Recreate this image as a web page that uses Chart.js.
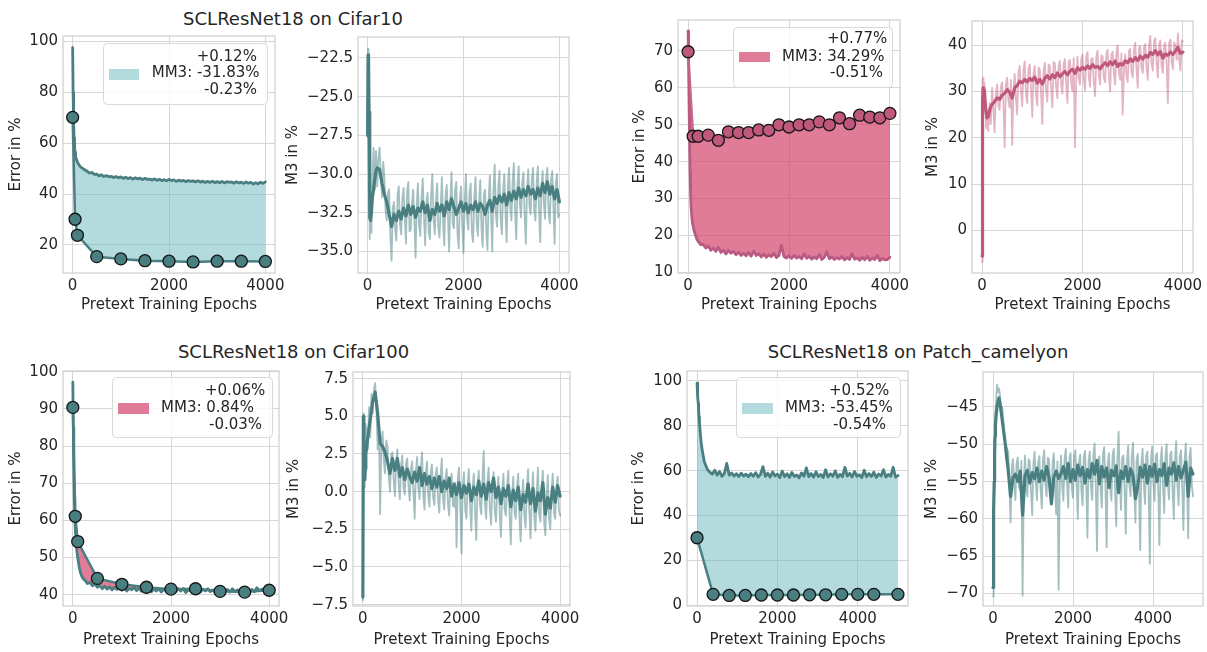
<!DOCTYPE html>
<html><head><meta charset="utf-8">
<script src="https://cdn.jsdelivr.net/npm/chart.js@4.4.1/dist/chart.umd.min.js"></script>
<style>
html,body{margin:0;padding:0;background:#fff;}
body{width:1207px;height:652px;position:relative;overflow:hidden;font-family:'DejaVu Sans',sans-serif;}
canvas{position:absolute;}
.ttl{position:absolute;font-size:18px;line-height:18px;color:#262626;white-space:nowrap;transform:translate(-50%,-50%);}
</style></head><body>
<div class="ttl" style="left:293px;top:19px">SCLResNet18 on Cifar10</div>
<div class="ttl" style="left:293.5px;top:352px">SCLResNet18 on Cifar100</div>
<div class="ttl" style="left:918px;top:351.5px">SCLResNet18 on Patch_camelyon</div>
<script>
// ---------- epochs ----------
const ep4000 = [0,10,20,30,40,50,60,80,100,125,150,175,
 200,250,300,350,400,450,500,550,600,650,700,
 750,800,850,900,950,1000,1050,1100,1150,1200,1250,
 1300,1350,1400,1450,1500,1550,1600,1650,1700,1750,1800,
 1850,1900,1950,2000,2050,2100,2150,2200,2250,2300,2350,
 2400,2450,2500,2550,2600,2650,2700,2750,2800,2850,2900,
 2950,3000,3050,3100,3150,3200,3250,3300,3350,3400,3450,
 3500,3550,3600,3650,3700,3750,3800,3850,3900,3950,4000];
const ep4000fine = [0,10,20,30,40,50,60,80,100,125,150,175,
 200,225,250,275,300,325,350,375,400,425,450,475,500,525,550,575,600,625,650,675,700,725,
 750,775,800,825,850,875,900,925,950,975,1000,1025,1050,1075,1100,1125,1150,1175,1200,1225,1250,1275,
 1300,1325,1350,1375,1400,1425,1450,1475,1500,1525,1550,1575,1600,1625,1650,1675,1700,1725,1750,1775,1800,1825,
 1850,1875,1900,1925,1950,1975,2000,2025,2050,2075,2100,2125,2150,2175,2200,2225,2250,2275,2300,2325,2350,2375,
 2400,2425,2450,2475,2500,2525,2550,2575,2600,2625,2650,2675,2700,2725,2750,2775,2800,2825,2850,2875,2900,2925,
 2950,2975,3000,3025,3050,3075,3100,3125,3150,3175,3200,3225,3250,3275,3300,3325,3350,3375,3400,3425,3450,3475,
 3500,3525,3550,3575,3600,3625,3650,3675,3700,3725,3750,3775,3800,3825,3850,3875,3900,3925,3950,3975,4000];
const ep5000 = [0,10,20,30,40,50,60,80,100,125,150,175,
 200,260,320,380,440,500,560,620,680,
 740,800,860,920,980,1040,1100,1160,1220,
 1280,1340,1400,1460,1520,1580,1640,1700,1760,
 1820,1880,1940,2000,2060,2120,2180,2240,2300,
 2360,2420,2480,2540,2600,2660,2720,2780,2840,
 2900,2960,3020,3080,3140,3200,3260,3320,3380,
 3440,3500,3560,3620,3680,3740,3800,3860,3920,
 3980,4040,4100,4160,4220,4280,4340,4400,4460,
 4520,4580,4640,4700,4760,4820,4880,4940,5000];
const ep5000fine = [0,10,20,30,40,50,60,80,100,125,150,175,
 200,230,260,290,320,350,380,410,440,470,500,530,560,590,620,650,680,710,
 740,770,800,830,860,890,920,950,980,1010,1040,1070,1100,1130,1160,1190,1220,1250,
 1280,1310,1340,1370,1400,1430,1460,1490,1520,1550,1580,1610,1640,1670,1700,1730,1760,1790,
 1820,1850,1880,1910,1940,1970,2000,2030,2060,2090,2120,2150,2180,2210,2240,2270,2300,2330,
 2360,2390,2420,2450,2480,2510,2540,2570,2600,2630,2660,2690,2720,2750,2780,2810,2840,2870,
 2900,2930,2960,2990,3020,3050,3080,3110,3140,3170,3200,3230,3260,3290,3320,3350,3380,3410,
 3440,3470,3500,3530,3560,3590,3620,3650,3680,3710,3740,3770,3800,3830,3860,3890,3920,3950,
 3980,4010,4040,4070,4100,4130,4160,4190,4220,4250,4280,4310,4340,4370,4400,4430,4460,4490,
 4520,4550,4580,4610,4640,4670,4700,4730,4760,4790,4820,4850,4880,4910,4940,4970,5000];

// ---------- Cifar10 ----------
const c10ErrLinear = [97.6,80,68,62,58.5,56.5,55,53.5,52.5,51.7,51,50.5,
 50.2,49.6,49.0,48.3,48.5,47.8,47.9,47.2,47.6,46.9,47.3,
 46.8,47.0,46.5,46.9,46.4,46.8,46.2,46.6,46.1,46.5,45.9,
 46.4,46.0,46.3,45.7,46.2,45.8,45.9,45.5,46.0,45.4,45.8,
 45.3,45.7,45.2,45.8,45.3,45.6,45.0,45.5,45.1,45.4,44.9,
 45.3,45.0,45.2,44.8,45.3,44.7,45.1,44.6,45.0,44.6,45.1,
 44.5,44.9,44.5,45.0,44.4,44.9,44.6,44.8,44.3,44.9,44.4,
 44.7,44.2,44.8,44.3,44.6,43.9,44.5,44.0,44.7,44.2,44.8];
const c10FtEpochs = [0,50,100,500,1000,1500,2000,2500,3000,3500,4000];
const c10FtErr = [70.2,30.1,23.8,15.4,14.5,13.8,13.6,13.3,13.6,13.6,13.5];
const c10M3Smooth = [-27.5,-22.3,-22.6,-26,-30.5,-32.8,-33.0,-32.5,-31.5,-31.0,-30.3,-29.8,
 -29.6,-29.7,-30.6,-31.3,-31.8,-32.6,-33.4,-32.6,-33.0,-32.4,-32.9,
 -32.2,-32.7,-32.0,-32.6,-32.1,-32.8,-32.2,-32.4,-31.8,-32.5,-32.0,
 -33.0,-32.3,-32.6,-31.9,-32.4,-32.0,-32.7,-31.8,-32.3,-31.6,-32.1,
 -32.6,-32.2,-31.8,-32.4,-31.9,-32.5,-32.0,-32.3,-31.8,-32.4,-31.9,
 -32.1,-32.6,-32.0,-31.7,-32.4,-31.5,-31.9,-31.4,-31.8,-31.3,-32.0,
 -31.2,-31.7,-31.1,-31.6,-30.9,-31.5,-31.0,-31.4,-30.8,-31.3,-31.0,
 -31.6,-30.9,-31.4,-30.6,-31.2,-30.5,-31.3,-30.8,-31.6,-31.0,-31.8];
const c10M3Raw = [-27.6,-21.9,-23.0,-27.5,-34.2,-33.5,-31.5,-33.8,-30.2,-28.3,-31.0,-28.5,
 -30.8,-29.0,-28.3,-30.0,-31.5,-29.2,-30.2,-32.4,-33.0,-31.2,-31.0,-34.0,-35.6,-32.2,-31.8,-33.6,-34.3,-31.4,-30.8,-33.2,-33.9,-31.6,
 -30.9,-32.8,-34.5,-31.1,-30.5,-33.7,-33.6,-31.9,-31.0,-33.0,-35.4,-32.0,-30.6,-33.4,-34.0,-31.5,-30.3,-32.7,-34.6,-31.9,-31.2,-33.8,
 -34.2,-31.3,-30.0,-32.9,-33.9,-31.8,-30.6,-33.5,-34.1,-32.1,-30.2,-33.3,-34.6,-31.4,-30.7,-32.6,-35.0,-31.7,-29.9,-33.2,-33.5,-31.0,
 -30.5,-33.9,-34.8,-31.6,-30.8,-33.4,-35.1,-31.8,-30.0,-32.9,-33.6,-31.2,-30.6,-33.8,-34.4,-31.5,-30.2,-33.1,-34.0,-31.7,-30.4,-33.5,
 -34.7,-31.3,-31.0,-33.7,-34.9,-31.6,-30.1,-32.8,-35.0,-31.0,-29.4,-32.6,-33.4,-30.8,-29.8,-32.9,-33.9,-31.1,-30.0,-32.4,-34.4,-30.9,
 -29.6,-32.2,-33.0,-30.4,-29.3,-32.5,-34.2,-30.7,-29.5,-31.9,-32.8,-30.5,-29.9,-32.7,-34.5,-30.9,-29.7,-32.1,-32.6,-30.3,-29.6,-32.4,
 -33.0,-30.6,-29.5,-32.3,-34.4,-30.8,-29.8,-31.9,-32.9,-30.2,-29.6,-32.5,-33.2,-30.4,-29.8,-32.0,-34.5,-30.6,-30.0,-32.8,-32.6];
const c10Legend = ['+0.12%','MM3: -31.83%','-0.23%'];

// ---------- second top pair (pink) ----------
const pErrLinear = [75.4,66,55,45,37,31,27.5,24,22.5,21,20,19,
 18.4,17.5,17.6,16.6,17.2,16.0,16.6,15.7,16.8,15.4,16.0,
 15.0,16.0,15.2,15.7,14.8,15.5,14.6,15.2,14.5,15.4,14.4,
 15.8,14.6,15.1,14.2,15.0,14.1,14.8,14.3,15.2,14.0,14.6,
 17.4,14.3,13.9,14.5,13.8,14.6,13.9,14.3,13.7,15.0,13.8,
 14.4,13.6,14.2,13.7,14.9,13.5,14.1,15.6,13.7,14.2,13.5,
 14.0,13.6,14.3,13.4,14.0,13.5,15.1,13.6,13.9,13.3,14.1,
 13.4,14.4,13.3,13.9,13.5,14.6,13.2,13.8,13.4,13.5,14.1];
const pFtEpochs = [0,100,200,400,600,800,1000,1200,1400,1600,1800,2000,2200,2400,2600,2800,3000,3200,3400,3600,3800,4000];
const pFtErr = [69.8,46.9,46.9,47.2,45.8,48.1,47.9,47.9,48.6,48.5,50.0,49.4,50.0,50.0,50.8,50.0,51.9,50.3,52.6,52.1,51.9,53.1];
const pM3Smooth = [-5.5,28,30.8,30.5,30.2,29.5,28,25.5,24.3,24.6,25.8,26.8,
 27.2,27.8,28.6,28.3,29.2,29.6,30.4,29.8,28.6,30.8,31.3,
 32.2,31.9,32.6,32.1,32.8,32.4,33.1,31.8,32.6,31.6,32.9,
 33.4,32.7,33.6,33.0,34.0,33.2,33.8,34.3,33.6,34.4,34.8,
 33.9,35.1,34.6,35.2,34.8,35.5,35.0,35.8,35.2,35.4,34.9,
 35.6,36.2,35.6,36.4,35.8,36.6,35.4,36.0,35.7,36.6,36.2,
 37.0,36.5,37.3,36.7,37.6,37.0,37.8,37.4,38.4,38.0,38.8,
 37.9,38.6,37.2,38.1,37.8,38.5,38.0,38.7,39.5,38.2,38.5];
const pM3Raw = [-6.8,32.5,33.0,29.0,31.8,27.5,30.5,22.0,26.0,21.5,27.5,23.0,
 30.8,26.5,21.2,29.5,31.5,27.0,26.0,31.0,32.0,27.5,18.0,31.5,33.0,28.0,26.5,32.5,18.5,30.0,33.8,28.5,25.0,34.0,
 35.5,30.0,26.8,34.8,36.5,29.5,27.5,35.0,35.8,30.5,24.5,34.0,35.5,29.0,27.0,35.2,34.8,29.8,23.0,34.5,36.2,30.2,
 27.8,35.8,35.5,30.8,26.5,36.4,36.0,31.0,28.5,35.6,36.6,31.5,29.5,36.0,37.0,31.8,27.5,36.5,36.8,32.0,30.0,37.2,
 18.0,32.5,37.5,33.0,31.5,37.0,38.0,32.8,30.2,37.6,38.5,33.2,31.0,37.0,37.2,32.0,29.0,37.5,38.8,33.5,31.5,37.8,
 37.5,33.0,32.0,38.2,39.0,33.6,30.0,38.0,38.6,33.8,31.5,38.4,40.0,34.0,32.5,38.2,25.0,34.5,38.0,33.5,32.0,38.8,
 39.2,34.2,33.0,39.0,40.5,34.8,30.8,39.4,39.8,35.0,34.0,39.6,40.2,35.2,32.5,40.0,42.0,36.0,34.5,40.8,41.5,36.2,
 33.0,40.2,41.0,35.5,34.0,40.0,40.5,36.0,27.5,40.5,41.2,36.4,34.8,40.6,40.0,36.8,42.5,37.0,34.5,41.0,40.8];
const pLegend = ['+0.77%','MM3: 34.29%','-0.51%'];

// ---------- Cifar100 ----------
const c100ErrLinear = [97.2,85,74,66,61,58,55.5,52,50,47.8,46.2,45.2,
 44.5,43.8,43.0,43.3,42.4,42.9,42.0,42.5,41.6,42.3,41.5,
 42.1,41.3,42.0,41.4,41.9,41.2,42.2,41.0,41.7,41.3,42.0,
 41.1,41.8,40.9,41.6,41.2,41.9,40.8,41.5,41.0,41.7,40.7,
 41.4,41.1,41.8,40.8,41.5,40.9,41.6,41.0,41.7,40.6,41.3,
 41.0,41.8,40.9,41.4,40.7,41.5,41.0,41.6,40.8,41.3,40.6,
 41.5,40.9,41.7,41.0,41.4,40.7,41.6,40.9,41.3,40.6,41.5,
 40.8,41.7,41.0,41.4,40.8,41.9,41.1,41.5,40.9,41.6,41.2];
const c100FtEpochs = [0,50,100,500,1000,1500,2000,2500,3000,3500,4000];
const c100FtErr = [90.4,61.1,54.3,44.4,42.8,42.0,41.5,41.6,40.9,40.7,41.2];
const c100M3Smooth = [-7.0,5.0,3.5,1.5,0.8,1.5,2.5,3.0,3.6,4.2,4.8,5.4,
 6.0,6.6,5.2,3.2,3.0,2.6,2.0,1.2,2.2,1.4,2.2,
 1.0,1.6,0.8,1.5,1.0,0.6,1.3,0.7,1.6,0.4,1.2,
 0.5,1.0,0.2,0.9,0.3,1.0,0.0,0.7,0.2,0.9,-0.3,
 0.5,-0.2,0.6,-0.4,0.4,-0.1,0.5,-0.6,0.3,-0.2,0.7,
 -0.3,0.5,-0.5,0.6,0.0,0.9,-0.4,0.3,-0.8,0.2,-0.3,
 0.4,-1.0,0.1,-0.6,0.3,-1.2,-0.2,-0.7,0.5,-0.8,0.2,
 -1.3,-0.1,-0.6,0.6,-1.5,-0.4,-1.1,0.3,-0.7,0.4,-0.3];
const c100M3Raw = [-7.2,5.2,2.0,0.3,1.0,4.5,2.5,4.2,2.8,5.6,3.6,6.5,
 5.2,6.8,7.2,5.5,2.8,4.6,-1.5,3.2,4.0,2.0,1.2,3.4,3.0,1.0,0.0,2.5,2.6,0.8,-0.3,2.0,2.8,0.6,
 -0.5,1.8,2.4,0.2,-0.2,1.9,2.2,0.4,-0.6,1.5,2.0,0.0,-1.8,1.4,2.3,0.2,-0.5,1.6,2.6,-0.2,-1.2,1.2,
 2.0,-0.3,-1.0,1.3,1.8,-0.4,-0.9,1.1,1.6,-0.6,-1.4,1.0,2.2,-0.5,-1.2,0.9,1.5,-0.8,-1.6,0.8,1.2,-0.9,
 -1.0,0.6,-3.7,0.9,1.6,-1.0,-4.1,0.4,1.3,-1.2,-1.8,0.6,1.5,-1.0,-2.6,0.3,1.2,-1.4,-3.2,0.5,1.4,-0.9,
 -1.5,0.8,2.7,-0.8,-1.8,0.6,1.6,-1.1,-2.2,0.4,1.3,-1.3,-2.0,0.2,1.0,-1.5,-3.0,0.1,1.2,-1.2,-1.6,0.5,
 1.4,-1.6,-3.5,-0.2,1.0,-1.4,-1.8,0.3,1.2,-1.8,-3.3,-0.4,0.8,-1.6,-2.4,0.2,1.5,-1.3,-3.1,-0.3,1.3,-1.7,
 -2.6,-0.1,1.6,-1.5,-2.0,0.4,1.4,-2.0,-2.9,-0.5,1.1,-1.8,-2.5,0.0,1.2,-1.4,-1.8,0.3,1.0,-1.2,-1.6];
const c100Legend = ['+0.06%','MM3: 0.84%','-0.03%'];

// ---------- Patch_camelyon ----------
const pcErrLinear = [99,96,93,90,87,84,81.5,77,73,69.5,67,64.5,
 63.0,60.5,59.2,58.4,60.2,58.0,59.6,57.5,58.8,
 63.2,58.0,59.0,57.6,58.6,57.4,58.9,57.6,58.4,
 57.3,58.7,57.5,59.1,57.2,58.3,61.8,57.4,58.9,
 57.1,59.4,57.6,58.5,56.9,59.8,57.3,58.6,57.0,
 59.2,57.4,58.1,56.8,59.0,57.5,61.2,57.3,58.7,
 57.1,59.5,57.4,58.3,56.9,60.4,57.2,58.6,57.5,
 59.9,57.0,58.4,57.3,61.5,57.6,58.8,57.2,59.6,
 57.5,58.2,56.9,60.2,57.3,58.7,57.4,59.3,57.0,
 58.5,57.6,60.4,57.2,58.3,57.5,61.5,57.1,57.8];
const pcFtEpochs = [0,400,800,1200,1600,2000,2400,2800,3200,3600,4000,4400,5000];
const pcFtErr = [30.1,4.9,4.4,4.4,4.6,4.6,4.6,4.7,4.7,4.9,4.9,4.9,4.9];
const pcM3Smooth = [-69.2,-64,-59,-55,-51.5,-49,-47.5,-46,-45,-44.3,-43.8,-44.5,
 -45.5,-48,-50.5,-53.5,-57.0,-54.5,-54.0,-55.0,-53.6,
 -59.5,-54.2,-53.5,-55.2,-53.8,-54.6,-53.2,-55.0,-53.6,
 -54.8,-53.0,-54.4,-58.0,-54.4,-53.6,-54.6,-54.0,-53.0,
 -54.6,-52.6,-55.0,-53.4,-54.8,-52.8,-54.2,-53.1,-55.2,
 -53.4,-54.5,-52.6,-54.0,-52.2,-55.3,-53.0,-54.4,-53.2,
 -55.8,-53.5,-54.2,-52.9,-56.5,-53.6,-54.6,-53.0,-55.0,
 -53.3,-54.2,-57.3,-55.6,-53.1,-54.4,-52.8,-55.2,-53.0,
 -54.3,-52.7,-55.0,-53.4,-54.2,-52.6,-55.5,-53.2,-54.0,
 -52.5,-54.8,-53.0,-54.5,-53.5,-52.4,-57.0,-53.2,-54.0];
const pcM3Raw = [-70.4,-66,-60,-56,-50,-48,-46,-44,-42,-43,-42.5,-43.5,
 -46,-45,-47,-49,-52,-50.5,-51,-55.5,-60.5,-53,-52,-55.5,-57.5,-52.5,-51.8,-55.8,-56.2,-52.2,
 -70.3,-55.0,-51.5,-55.6,-57.0,-52.0,-52.3,-56.4,-59.5,-52.6,-51.0,-55.2,-57.5,-52.4,-51.6,-56.0,-58.6,-52.0,
 -50.8,-55.4,-57.0,-51.8,-52.0,-56.2,-58.0,-52.5,-51.2,-55.6,-59.4,-52.3,-69.5,-55.0,-51.5,-55.8,-57.6,-52.0,
 -50.6,-55.2,-58.5,-51.8,-51.2,-56.0,-57.2,-51.6,-50.8,-55.4,-60.0,-52.4,-51.4,-56.2,-58.2,-51.7,-50.9,-55.0,
 -62.5,-52.2,-51.0,-55.8,-57.5,-51.5,-49.9,-55.5,-64.3,-52.0,-51.6,-56.0,-58.5,-51.2,-50.4,-55.3,-63.8,-52.6,
 -51.2,-55.9,-57.6,-51.4,-50.6,-55.6,-61.0,-52.0,-48.3,-55.0,-58.8,-51.8,-51.5,-56.3,-62.0,-52.2,-50.2,-55.5,
 -57.0,-51.6,-49.8,-55.2,-60.5,-52.0,-51.3,-56.0,-64.2,-52.4,-50.6,-55.4,-58.0,-51.5,-51.0,-55.8,-66.0,-52.0,
 -50.3,-55.2,-57.6,-51.6,-51.2,-56.0,-63.5,-52.2,-50.4,-55.6,-59.2,-51.8,-50.0,-55.2,-57.4,-51.4,-51.0,-56.1,
 -60.0,-52.0,-49.6,-55.4,-58.2,-51.6,-50.8,-55.8,-61.5,-52.2,-49.9,-55.0,-62.6,-51.8,-50.5,-55.5,-57.0];
const pcLegend = ['+0.52%','MM3: -53.45%','-0.54%'];

// ---------- ticks ----------
const xTicks = [0,2000,4000];
const yTicksC10Err = [20,40,60,80,100];
const yTicksC10M3 = [-35,-32.5,-30,-27.5,-25,-22.5];
const yTicksPErr = [10,20,30,40,50,60,70];
const yTicksPM3 = [0,10,20,30,40];
const yTicksC100Err = [40,50,60,70,80,90,100];
const yTicksC100M3 = [-7.5,-5,-2.5,0,2.5,5,7.5];
const yTicksPcErr = [0,20,40,60,80,100];
const yTicksPcM3 = [-70,-65,-60,-55,-50,-45];

// ---------- styles ----------
const TEAL = '#4a7f81', TEAL_LIGHT = 'rgba(74,127,129,0.5)', TEAL_FILL = 'rgba(104,181,188,0.5)';
const PINK = '#c0587e', PINK_LIGHT = 'rgba(192,88,126,0.45)', PINK_FILL = 'rgba(211,69,108,0.7)';
const GRID = '#d6d6d6', TXT = '#262626';
const FONT = {family:"'DejaVu Sans', sans-serif", size:15};
Chart.defaults.font.family = "'DejaVu Sans', sans-serif";
Chart.defaults.color = TXT;

const pts = (xs, ys) => xs.map((x, i) => ({x: x, y: ys[i]}));
const lineDs = (xs, ys, color, w, extra) => Object.assign({
  data: pts(xs, ys), borderColor: color, borderWidth: w, pointRadius: 0, pointHoverRadius: 0,
  tension: 0, fill: false, borderJoinStyle: 'round', borderCapStyle: 'round'}, extra || {});
const markerDs = (xs, ys, lineColor, dotColor) => ({
  data: pts(xs, ys), borderColor: lineColor, borderWidth: 2.5, pointRadius: 6, pointHoverRadius: 6,
  pointBackgroundColor: dotColor, pointBorderColor: '#161616', pointBorderWidth: 1.3,
  tension: 0, fill: false, borderJoinStyle: 'round'});

const fmt = (v, d) => (v < 0 ? '\u2212' : '') + Math.abs(v).toFixed(d);

const framePlugin = {
  id: 'frame',
  afterDatasetsDraw(chart) {
    const a = chart.chartArea, ctx = chart.ctx;
    ctx.save(); ctx.strokeStyle = '#d0d0d0'; ctx.lineWidth = 1.25;
    ctx.strokeRect(a.left, a.top, a.right - a.left, a.bottom - a.top);
    ctx.restore();
  }
};
const legendPlugin = {
  id: 'mmLegend',
  afterDraw(chart, args, o) {
    if (!o || !o.box) return;
    const ctx = chart.ctx, ox = o.off[0], oy = o.off[1];
    const b = o.box, p = o.patch;
    ctx.save();
    ctx.beginPath();
    ctx.roundRect(b[0] - ox + 0.5, b[1] - oy + 0.5, b[2] - b[0], b[3] - b[1], 4);
    ctx.fillStyle = 'rgba(255,255,255,0.8)'; ctx.fill();
    ctx.strokeStyle = '#d9d9d9'; ctx.lineWidth = 1; ctx.stroke();
    ctx.fillStyle = o.color;
    ctx.fillRect(p[0] - ox, p[1] - oy, p[2] - p[0], p[3] - p[1]);
    ctx.font = "15px 'DejaVu Sans', sans-serif";
    ctx.fillStyle = TXT; ctx.textBaseline = 'middle'; ctx.textAlign = 'left';
    for (let i = 0; i < o.texts.length; i++) {
      ctx.fillText(o.texts[i], o.pos[i][0] - ox, o.pos[i][1] - oy);
    }
    ctx.restore();
  }
};

function panel(cfg) {
  const [L, T, R, B] = cfg.plot;
  const cl = cfg.ytx - 9, ct = T - 12;
  const cr = Math.min(R + 28, 1207), cb = cfg.xty + 9;
  const cv = document.createElement('canvas');
  cv.width = cr - cl; cv.height = cb - ct;
  cv.style.left = cl + 'px'; cv.style.top = ct + 'px';
  cv.style.width = (cr - cl) + 'px'; cv.style.height = (cb - ct) + 'px';
  document.body.appendChild(cv);
  const yW = L - cl, xH = cb - B;
  const legendOpt = cfg.legend ? Object.assign({off: [cl, ct]}, cfg.legend) : false;
  new Chart(cv, {
    type: 'line',
    data: {datasets: cfg.datasets},
    options: {
      responsive: false, animation: false, devicePixelRatio: 1,
      events: [],
      layout: {padding: {left: 0, top: 12, right: cr - R, bottom: 0}, autoPadding: false},
      plugins: {legend: {display: false}, tooltip: {enabled: false}, mmLegend: legendOpt},
      scales: {
        x: {
          type: 'linear', min: cfg.xr[0], max: cfg.xr[1],
          afterBuildTicks: s => { s.ticks = xTicks.map(v => ({value: v})); },
          afterFit: s => { s.height = xH; },
          grid: {color: GRID, lineWidth: 1, drawTicks: false},
          border: {display: false},
          ticks: {font: FONT, color: TXT, padding: 4, maxRotation: 0, autoSkip: false, callback: v => fmt(v, 0)},
          title: {display: true, text: 'Pretext Training Epochs', font: FONT, color: TXT, padding: 0}
        },
        y: {
          type: 'linear', min: cfg.yr[0], max: cfg.yr[1],
          afterBuildTicks: s => { s.ticks = cfg.yt.map(v => ({value: v})); },
          afterFit: s => { s.width = yW; },
          grid: {color: GRID, lineWidth: 1, drawTicks: false},
          border: {display: false},
          ticks: {font: FONT, color: TXT, padding: 5, autoSkip: false, callback: v => fmt(v, cfg.yd)},
          title: {display: true, text: cfg.ylabel, font: FONT, color: TXT, padding: 0}
        }
      }
    },
    plugins: [framePlugin, legendPlugin]
  });
}

// Panel 1: Cifar10 error
panel({plot: [63, 34, 275, 273], ytx: 16, xty: 305, xr: [-200, 4200], yr: [8.96, 102.2], yt: yTicksC10Err, yd: 0,
  ylabel: 'Error in %',
  datasets: [
    markerDs(c10FtEpochs, c10FtErr, TEAL, TEAL),
    lineDs(ep4000, c10ErrLinear, TEAL, 2.8, {fill: '-1', backgroundColor: TEAL_FILL})
  ],
  legend: {box: [103, 43, 267, 104], patch: [109, 69, 139, 80], color: TEAL_FILL, texts: c10Legend,
    pos: [[196.7, 57], [151.7, 73.5], [204, 90]]}
});
// Panel 2: Cifar10 M3
panel({plot: [358, 35, 569, 273], ytx: 293, xty: 305, xr: [-200, 4200], yr: [-36.39, -21.15], yt: yTicksC10M3, yd: 1,
  ylabel: 'M3 in %',
  datasets: [lineDs(ep4000, c10M3Smooth, TEAL, 3.2), lineDs(ep4000fine, c10M3Raw, TEAL_LIGHT, 1.8)]
});
// Panel 3: pink error
panel({plot: [678, 18, 900, 273], ytx: 640, xty: 305, xr: [-200, 4200], yr: [9.84, 78.4], yt: yTicksPErr, yd: 0,
  ylabel: 'Error in %',
  datasets: [
    markerDs(pFtEpochs, pFtErr, 'rgba(200,95,130,0.9)', PINK),
    lineDs(ep4000, pErrLinear, '#b85a82', 2.8, {fill: '-1', backgroundColor: PINK_FILL})
  ],
  legend: {box: [733, 27, 892, 87], patch: [739, 52, 770, 62], color: PINK_FILL, texts: pLegend,
    pos: [[827, 39.5], [782, 57], [830, 73.5]]}
});
// Panel 4: pink M3
panel({plot: [972, 19, 1193, 273], ytx: 933, xty: 305, xr: [-200, 4200], yr: [-9.15, 45.2], yt: yTicksPM3, yd: 0,
  ylabel: 'M3 in %',
  datasets: [lineDs(ep4000, pM3Smooth, PINK, 3.2), lineDs(ep4000fine, pM3Raw, PINK_LIGHT, 1.8)]
});
// Panel 5: Cifar100 error
panel({plot: [63, 369, 279, 606], ytx: 16, xty: 640, xr: [-200, 4200], yr: [36.96, 100.2], yt: yTicksC100Err, yd: 0,
  ylabel: 'Error in %',
  datasets: [
    markerDs(c100FtEpochs, c100FtErr, TEAL, TEAL),
    lineDs(ep4000, c100ErrLinear, TEAL, 2.8, {fill: '-1', backgroundColor: PINK_FILL})
  ],
  legend: {box: [112, 377, 272, 437], patch: [118, 403, 149, 414], color: PINK_FILL, texts: c100Legend,
    pos: [[205, 391], [161, 408], [209, 425]]}
});
// Panel 6: Cifar100 M3
panel({plot: [353, 370, 570, 606], ytx: 294, xty: 640, xr: [-200, 4200], yr: [-7.59, 7.94], yt: yTicksC100M3, yd: 1,
  ylabel: 'M3 in %',
  datasets: [lineDs(ep4000, c100M3Smooth, TEAL, 3.2), lineDs(ep4000fine, c100M3Raw, TEAL_LIGHT, 1.8)]
});
// Panel 7: Patch_camelyon error
panel({plot: [687, 369, 908, 606], ytx: 639, xty: 640, xr: [-250, 5250], yr: [-0.3, 104.4], yt: yTicksPcErr, yd: 0,
  ylabel: 'Error in %',
  datasets: [
    markerDs(pcFtEpochs, pcFtErr, TEAL, TEAL),
    lineDs(ep5000, pcErrLinear, TEAL, 2.8, {fill: '-1', backgroundColor: TEAL_FILL})
  ],
  legend: {box: [736, 377, 900, 437], patch: [742, 403, 773, 414], color: TEAL_FILL, texts: pcLegend,
    pos: [[829, 391], [785, 408], [833, 425]]}
});
// Panel 8: Patch_camelyon M3
panel({plot: [983, 370, 1203, 606], ytx: 932, xty: 640, xr: [-250, 5250], yr: [-71.68, -40.32], yt: yTicksPcM3, yd: 0,
  ylabel: 'M3 in %',
  datasets: [lineDs(ep5000, pcM3Smooth, TEAL, 3.2), lineDs(ep5000fine, pcM3Raw, TEAL_LIGHT, 1.8)]
});
</script>
</body></html>
